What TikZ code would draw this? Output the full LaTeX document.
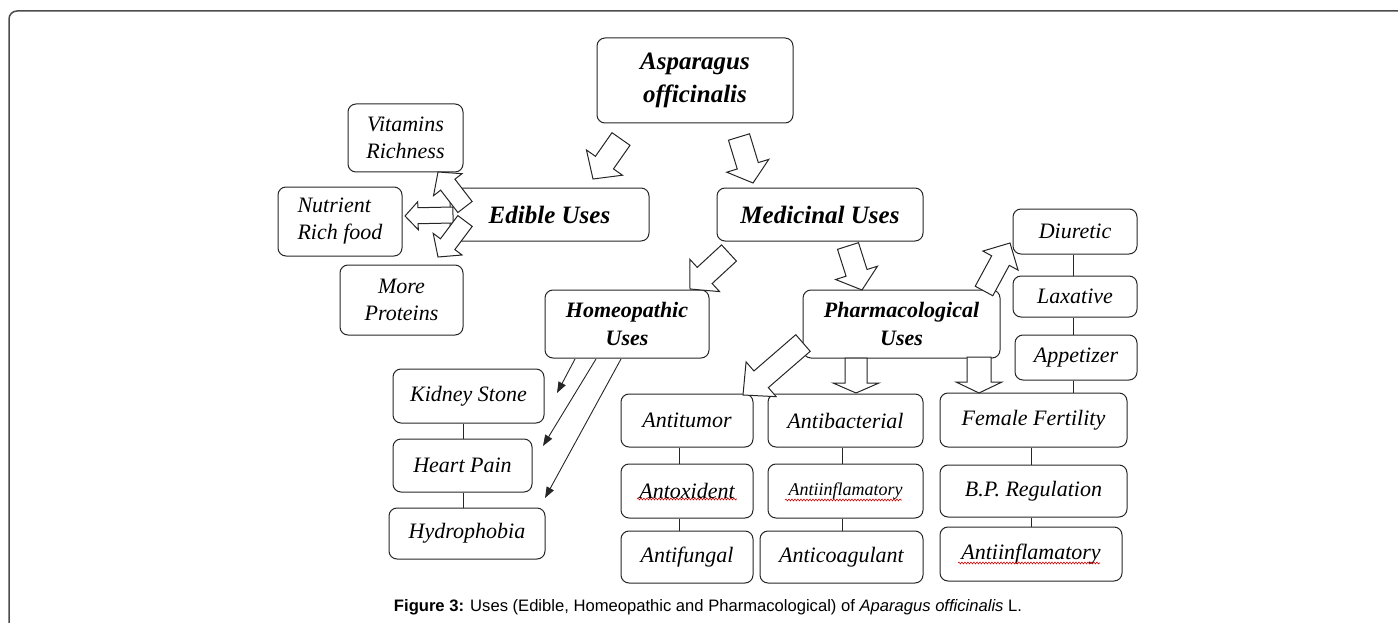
\documentclass[tikz,border=0pt]{standalone}
\usepackage{fontspec}
\setmainfont{Liberation Serif}
\newfontfamily\capfont{Liberation Sans}
\usetikzlibrary{calc,arrows.meta,decorations.pathmorphing}

% block arrow: #1 tail, #2 tip, #3 shaft half width, #4 head half width, #5 head length
\newcommand{\blockarrow}[5]{%
  \coordinate (ba-b) at ($(#2)!#5!(#1)$);
  \draw[barr] ($(#1)!#3!90:(#2)$) -- ($(ba-b)!#3!90:(#2)$) -- ($(ba-b)!#4!90:(#2)$) -- (#2)
    -- ($(ba-b)!#4!-90:(#2)$) -- ($(ba-b)!#3!-90:(#2)$) -- ($(#1)!#3!-90:(#2)$) -- cycle;}

\begin{document}
\begin{tikzpicture}[x=1pt,y=-1pt,
  ibox/.style={draw=black!85, line width=1pt, rounded corners=8pt, align=center, inner sep=0pt,
    font=\fontsize{22}{27}\selectfont\itshape},
  bbox/.style={ibox, font=\fontsize{22}{28}\selectfont\bfseries\itshape},
  big/.style={ibox, font=\fontsize{25}{33}\selectfont\bfseries\itshape},
  barr/.style={draw=black!85, fill=white, line width=1pt, line join=miter},
  link/.style={draw=black!85, line width=0.9pt},
  thinarr/.style={draw=black!85, line width=0.9pt, -{Triangle[length=11pt,width=8pt]}},
  squig/.style={draw=red!85!black, line width=0.6pt, decorate,
    decoration={snake, amplitude=0.9pt, segment length=3pt}},
  frame/.style={draw=black!70, line width=1.5pt, rounded corners=8pt}
]
\useasboundingbox (0,0) rectangle (1398,623);
\draw[frame] (9,640) -- (9,11) -- (1420,11);

% main nodes
\node[big, minimum width=196pt, minimum height=85pt] (asp) at (695,80.5) {Asparagus\\officinalis};
\node[big, minimum width=199pt, minimum height=53pt] (edible) at (549.5,214.5) {Edible Uses};
\node[big, minimum width=206pt, minimum height=53pt] (medic) at (820,214.5) {Medicinal Uses};

\node[ibox, minimum width=115pt, minimum height=68pt] (vit) at (405.5,138) {Vitamins\\Richness};
\node[ibox, align=left, minimum width=124pt, minimum height=69pt] (nut) at (340,221.5) {Nutrient\\Rich food};
\node[ibox, minimum width=123pt, minimum height=70pt] (more) at (401.5,300) {More\\Proteins};

\node[bbox, minimum width=164pt, minimum height=68pt] (homeo) at (627,324) {Homeopathic\\Uses};
\node[bbox, minimum width=197pt, minimum height=68pt] (pharm) at (901.5,324) {Pharmacological\\Uses};

\node[ibox, minimum width=151pt, minimum height=54pt] (kid) at (468.5,396) {Kidney Stone};
\node[ibox, minimum width=139pt, minimum height=53pt] (heart) at (462.5,465.5) {Heart Pain};
\node[ibox, minimum width=156pt, minimum height=51pt] (hydro) at (467,533.5) {Hydrophobia};

\node[ibox, minimum width=132pt, minimum height=53pt] (tumor) at (687,420.5) {Antitumor};
\node[ibox, minimum width=132pt, minimum height=54pt] (antox) at (687,491) {Antoxident};
\node[ibox, minimum width=132pt, minimum height=52pt] (fung) at (687,557) {Antifungal};

\node[ibox, minimum width=155pt, minimum height=53pt] (bact) at (845.5,420.5) {Antibacterial};
\node[ibox, minimum width=155pt, minimum height=54pt, font=\fontsize{18}{22}\selectfont\itshape] (inf1) at (845.5,491) {Antiinflamatory};
\node[ibox, minimum width=163pt, minimum height=52pt] (coag) at (841.5,557) {Anticoagulant};

\node[ibox, minimum width=187pt, minimum height=54pt] (fem) at (1033.5,420) {Female Fertility};
\node[ibox, minimum width=187pt, minimum height=52pt] (bp) at (1033.5,491) {B.P. Regulation};
\node[ibox, minimum width=182pt, minimum height=54pt] (inf2) at (1031,554) {Antiinflamatory};

\node[ibox, minimum width=124pt, minimum height=45pt] (diur) at (1075,231.5) {Diuretic};
\node[ibox, minimum width=124pt, minimum height=41pt] (lax) at (1075,296.5) {Laxative};
\node[ibox, minimum width=122pt, minimum height=45pt] (appet) at (1076,357.5) {Appetizer};

% spell-check squiggles
\draw[squig] (637,499) -- (737,499);
\draw[squig] (785,500) -- (902,500);
\draw[squig] (958,563) -- (1100,563);

% plain links
\coordinate (lxa) at (463,0);
\coordinate (lxb) at (679,0);
\coordinate (lxc) at (842,0);
\coordinate (lxd) at (1031,0);
\coordinate (lxe) at (1073,0);
\draw[link] (kid.south -| lxa) -- (heart.north -| lxa);
\draw[link] (heart.south -| lxa) -- (hydro.north -| lxa);
\draw[link] (tumor.south -| lxb) -- (antox.north -| lxb);
\draw[link] (antox.south -| lxb) -- (fung.north -| lxb);
\draw[link] (bact.south -| lxc) -- (inf1.north -| lxc);
\draw[link] (inf1.south -| lxc) -- (coag.north -| lxc);
\draw[link] (fem.south -| lxd) -- (bp.north -| lxd);
\draw[link] (bp.south -| lxd) -- (inf2.north -| lxd);
\draw[link] (diur.south -| lxe) -- (lax.north -| lxe);
\draw[link] (lax.south -| lxe) -- (appet.north -| lxe);
\draw[link] (appet.south -| lxe) -- (fem.north -| lxe);

% thin arrows from Homeopathic Uses
\coordinate (h1) at (575,359);
\coordinate (h2) at (596,359);
\coordinate (h3) at (621,359);
\coordinate (k1) at (557,393);
\coordinate (k2) at (543,446);
\coordinate (k3) at (545,498);
\draw[thinarr] (h1) -- (k1);
\draw[thinarr] (h2) -- (k2);
\draw[thinarr] (h3) -- (k3);

% block arrows
\coordinate (t1) at (621,139);  \coordinate (p1) at (593,179);
\coordinate (t2) at (739,137);  \coordinate (p2) at (753,183);
\coordinate (t3) at (465,207);  \coordinate (p3) at (438,172);
\coordinate (t4) at (453,215);  \coordinate (p4) at (405,216);
\coordinate (t5) at (465,221);  \coordinate (p5) at (438,257);
\coordinate (t6) at (729,253);  \coordinate (p6) at (690,289);
\coordinate (t7) at (848,246);  \coordinate (p7) at (862,290);
\coordinate (t8) at (984,291);  \coordinate (p8) at (1010,243);
\coordinate (t9) at (803,343);  \coordinate (p9) at (743,395);
\coordinate (t10) at (856,358); \coordinate (p10) at (856,393);
\coordinate (t11) at (979,357); \coordinate (p11) at (979,393);
\blockarrow{t1}{p1}{11pt}{22pt}{20pt}
\blockarrow{t2}{p2}{11pt}{22pt}{18pt}
\blockarrow{t3}{p3}{9pt}{18pt}{16pt}
\blockarrow{t4}{p4}{8pt}{14pt}{13pt}
\blockarrow{t5}{p5}{9pt}{18pt}{16pt}
\blockarrow{t6}{p6}{11pt}{22pt}{20pt}
\blockarrow{t7}{p7}{11pt}{22pt}{18pt}
\blockarrow{t8}{p8}{10pt}{20pt}{20pt}
\blockarrow{t9}{p9}{11pt}{23pt}{24pt}
\blockarrow{t10}{p10}{11pt}{23pt}{10pt}
\blockarrow{t11}{p11}{12pt}{23pt}{11pt}

% caption
\node[font=\capfont\fontsize{16.6}{19}\selectfont, inner sep=0pt] (cap) at (708,607)
  {\textbf{Figure 3:} Uses (Edible, Homeopathic and Pharmacological) of \textit{Aparagus officinalis} L.};
\end{tikzpicture}
\end{document}
